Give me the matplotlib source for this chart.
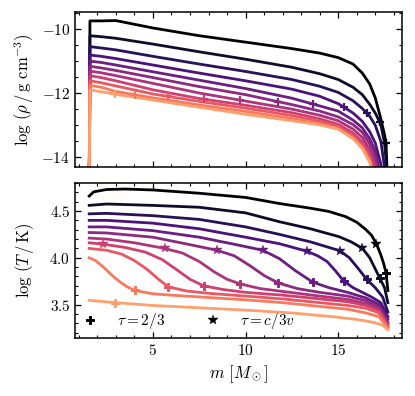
import numpy as np
import matplotlib
matplotlib.use("Agg")
import matplotlib.pyplot as plt
from matplotlib.ticker import MultipleLocator
from matplotlib.lines import Line2D

plt.rcParams.update({
    "font.family": "serif",
    "font.serif": ["cmr10", "DejaVu Serif"],
    "mathtext.fontset": "cm",
    "axes.formatter.use_mathtext": True,
    "axes.unicode_minus": True,
    "font.size": 11,
})

# snapshot colours, earliest (black) to latest (light orange)
n_snap = 11
colors = plt.cm.magma(np.linspace(0.0, 0.8, n_snap))

# ---- density panel: shared mass grid, one row per snapshot
rho_m = [1.56, 1.60, 2.2, 3.0, 5.0, 7.5, 10.0, 12.5, 14.0, 15.0, 15.8,
         16.3, 16.7, 17.0, 17.3, 17.5, 17.58, 17.68]
rho_lines = [
    [-15, -9.76, -9.76, -9.75, -9.98, -10.22, -10.42, -10.62, -10.76, -10.90, -11.10, -11.38, -11.72, -12.15, -12.80, -13.30, -13.55, -15],
    [-15, -10.22, -10.25, -10.30, -10.48, -10.72, -10.95, -11.20, -11.40, -11.58, -11.82, -12.05, -12.35, -12.62, -12.98, -13.55, -14.10, -15],
    [-15, -10.56, -10.60, -10.66, -10.86, -11.10, -11.33, -11.58, -11.79, -11.98, -12.24, -12.48, -12.72, -13.00, -13.50, -14.30, -15, -15],
    [-15, -10.82, -10.86, -10.93, -11.13, -11.38, -11.62, -11.88, -12.10, -12.33, -12.62, -12.88, -13.20, -13.55, -14.20, -15, -15, -15],
    [-15, -11.01, -11.05, -11.13, -11.34, -11.60, -11.86, -12.16, -12.40, -12.56, -12.84, -13.08, -13.42, -13.80, -14.60, -15, -15, -15],
    [-15, -11.17, -11.22, -11.30, -11.52, -11.80, -12.05, -12.36, -12.56, -12.74, -12.98, -13.22, -13.58, -14.00, -14.80, -15, -15, -15],
    [-15, -11.32, -11.37, -11.46, -11.70, -12.00, -12.25, -12.50, -12.69, -12.86, -13.12, -13.38, -13.75, -14.20, -15, -15, -15, -15],
    [-15, -11.46, -11.52, -11.62, -11.90, -12.17, -12.38, -12.61, -12.80, -12.97, -13.24, -13.52, -13.90, -14.40, -15, -15, -15, -15],
    [-15, -11.62, -11.68, -11.78, -12.03, -12.26, -12.47, -12.70, -12.88, -13.05, -13.33, -13.62, -14.00, -14.60, -15, -15, -15, -15],
    [-15, -11.76, -11.82, -11.95, -12.15, -12.37, -12.57, -12.79, -12.95, -13.10, -13.40, -13.70, -14.10, -14.80, -15, -15, -15, -15],
    [-15, -11.90, -11.96, -12.04, -12.22, -12.44, -12.66, -12.86, -12.99, -13.12, -13.42, -13.72, -14.15, -14.90, -15, -15, -15, -15],
]

# ---- temperature panel: each snapshot has its own mass points
T_m = [
    [1.56, 1.8, 2.5, 3.5, 5, 7.5, 10, 11.83, 13.5, 14.5, 15.4, 16.0, 16.5, 16.8, 17.06, 17.3, 17.45, 17.58, 17.68],
    [1.56, 2.5, 5, 7.5, 10, 11.83, 13.5, 15.05, 15.7, 16.31, 16.7, 17.0, 17.25, 17.5, 17.68],
    [1.56, 2.5, 5, 7.5, 10, 11.83, 13.5, 15.09, 15.6, 16.1, 16.53, 17.0, 17.4, 17.68],
    [1.56, 2.5, 5, 7.5, 10, 11.83, 13.3, 13.9, 14.4, 14.85, 15.3, 15.8, 16.8, 17.3, 17.68],
    [1.56, 2.5, 5, 7.5, 9.5, 10.93, 11.83, 12.7, 13.62, 14.5, 15.5, 16.5, 17.2, 17.68],
    [1.56, 2.5, 5, 7, 8.46, 9.4, 10.2, 11.0, 11.77, 12.8, 14, 15.5, 16.5, 17.2, 17.68],
    [1.56, 2.5, 4, 5.63, 6.6, 7.5, 8.3, 9.0, 9.71, 10.8, 12, 14, 15.5, 16.5, 17.2, 17.68],
    [1.56, 2.29, 3.5, 4.6, 5.5, 6.3, 7.0, 7.73, 8.8, 10, 12, 14, 15.5, 16.5, 17.2, 17.68],
    [1.56, 2.5, 3.3, 4.0, 4.66, 5.3, 5.82, 6.8, 8, 10, 12, 14, 15.5, 16.5, 17.2, 17.68],
    [1.56, 1.9, 2.33, 2.8, 3.23, 3.6, 4.03, 5, 6, 8, 10, 12, 14, 15.5, 16.5, 17.2, 17.68],
    [1.56, 2.97, 5, 7.5, 10, 12.5, 14.7, 16, 16.9, 17.4, 17.68],
]
T_val = [
    [4.66, 4.705, 4.73, 4.735, 4.725, 4.69, 4.645, 4.58, 4.53, 4.495, 4.44, 4.38, 4.30, 4.24, 4.15, 4.03, 3.94, 3.84, 3.65],
    [4.56, 4.575, 4.56, 4.54, 4.48, 4.385, 4.31, 4.225, 4.17, 4.10, 4.00, 3.88, 3.78, 3.68, 3.52],
    [4.47, 4.475, 4.45, 4.41, 4.33, 4.25, 4.17, 4.075, 4.00, 3.88, 3.77, 3.68, 3.58, 3.42],
    [4.40, 4.40, 4.37, 4.31, 4.22, 4.15, 4.07, 4.02, 3.96, 3.86, 3.75, 3.68, 3.58, 3.52, 3.37],
    [4.33, 4.33, 4.29, 4.22, 4.14, 4.08, 3.99, 3.86, 3.74, 3.68, 3.63, 3.57, 3.50, 3.34],
    [4.27, 4.265, 4.22, 4.14, 4.08, 4.02, 3.92, 3.81, 3.73, 3.67, 3.63, 3.59, 3.54, 3.47, 3.31],
    [4.21, 4.20, 4.16, 4.10, 4.05, 3.96, 3.85, 3.77, 3.72, 3.67, 3.64, 3.59, 3.555, 3.51, 3.45, 3.29],
    [4.16, 4.146, 4.11, 4.06, 3.98, 3.87, 3.77, 3.70, 3.66, 3.63, 3.60, 3.56, 3.53, 3.49, 3.43, 3.27],
    [4.10, 4.08, 4.04, 3.97, 3.88, 3.77, 3.69, 3.645, 3.62, 3.59, 3.56, 3.52, 3.49, 3.46, 3.41, 3.26],
    [4.00, 3.97, 3.90, 3.81, 3.74, 3.69, 3.65, 3.615, 3.60, 3.575, 3.55, 3.52, 3.48, 3.45, 3.41, 3.37, 3.25],
    [3.545, 3.52, 3.49, 3.465, 3.44, 3.41, 3.37, 3.34, 3.31, 3.28, 3.23],
]

# photosphere (tau = 2/3) and tau = c/3v positions
plus_m = [17.58, 17.25, 16.53, 15.3, 13.62, 11.77, 9.71, 7.73, 5.82, 4.03, 2.97]
plus_rho = [-13.55, -12.91, -12.61, -12.44, -12.34, -12.27, -12.22, -12.19, -12.10, -12.05, -12.04]
plus_T = [3.84, 3.78, 3.77, 3.75, 3.74, 3.73, 3.72, 3.70, 3.69, 3.65, 3.52]
star_m = [17.06, 16.31, 15.09, 13.3, 10.93, 8.46, 5.63, 2.29]
star_T = [4.15, 4.10, 4.075, 4.07, 4.08, 4.08, 4.10, 4.146]

fig = plt.figure(figsize=(4.15, 3.96), dpi=100)
ax1 = fig.add_axes([0.181, 0.578, 0.788, 0.392])
ax2 = fig.add_axes([0.181, 0.146, 0.788, 0.392])

lw = 2.0
for i in range(n_snap):
    c = colors[i]
    ax1.plot(rho_m, rho_lines[i], color=c, lw=lw, zorder=2)
    ax1.plot(plus_m[i], plus_rho[i], marker='+', ms=5.5, mew=1.6, color=c, zorder=3)
    ax2.plot(T_m[i], T_val[i], color=c, lw=lw, zorder=2)
    ax2.plot(plus_m[i], plus_T[i], marker='P', ms=5.8, mew=0.7, color=c, zorder=3)
    if i < len(star_m):
        ax2.plot(star_m[i], star_T[i], marker='*', ms=7.5, mew=0.3, color=c, zorder=3)

ax1.set_xlim(0.8, 18.45)
ax2.set_xlim(0.8, 18.45)
ax1.set_ylim(-14.3, -9.48)
ax2.set_ylim(3.14, 4.80)

for ax in (ax1, ax2):
    ax.xaxis.set_major_locator(MultipleLocator(5))
    ax.xaxis.set_minor_locator(MultipleLocator(1))
    ax.tick_params(which='both', direction='in', top=True, right=True, labelsize=11)
    ax.tick_params(which='major', length=4.5, width=0.9)
    ax.tick_params(which='minor', length=2.5, width=0.8)
    for s in ax.spines.values():
        s.set_linewidth(1.1)

ax1.yaxis.set_major_locator(MultipleLocator(2))
ax1.yaxis.set_minor_locator(MultipleLocator(0.5))
ax1.tick_params(labelbottom=False)
ax2.yaxis.set_major_locator(MultipleLocator(0.5))
ax2.yaxis.set_minor_locator(MultipleLocator(0.1))

ax1.set_ylabel(r'$\log\,(\rho\,/\,\mathrm{g\ cm^{-3}})$', fontsize=12)
ax2.set_ylabel(r'$\log\,(T\,/\,\mathrm{K})$', fontsize=12)
ax2.set_xlabel(r'$m\ [M_\odot]$', fontsize=12)
ax1.yaxis.set_label_coords(-0.12, 0.5)
ax2.yaxis.set_label_coords(-0.12, 0.5)

handles = [
    Line2D([], [], ls='none', marker='P', ms=5.8, mew=0.7, color='k'),
    Line2D([], [], ls='none', marker='*', ms=7.5, mew=0.3, color='k'),
]
ax2.legend(handles, [r'$\tau = 2/3$', r'$\tau = c/3v$'], loc='lower left',
           ncol=2, frameon=False, fontsize=11, handlelength=1.0,
           handletextpad=1.3, columnspacing=2.6, borderaxespad=0.05)

fig.savefig('out.png', dpi=100)
